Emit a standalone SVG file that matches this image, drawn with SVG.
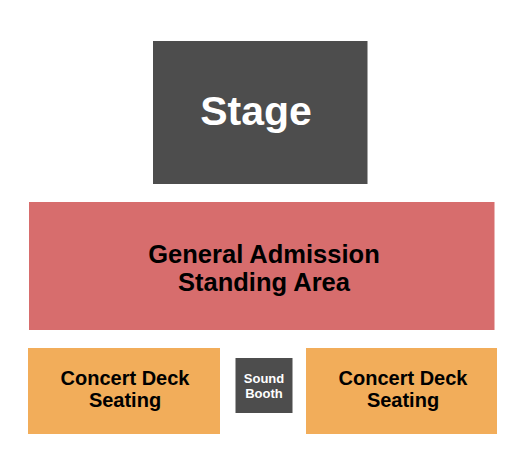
<svg xmlns="http://www.w3.org/2000/svg" width="525" height="475" viewBox="0 0 525 475">
<style>
text{font-family:"Liberation Sans",Arial,sans-serif;font-weight:bold;text-anchor:middle}
.dark{fill:#4d4d4d}
.ga{fill:#d76d6d}
.deck{fill:#f2ad5a}
.lt{fill:#ffffff}
.bk{fill:#000000}
</style>
<rect width="525" height="475" fill="#ffffff"/>
<g id="stage">
<rect class="dark" x="153" y="41" width="214.5" height="143"/>
<text class="lt" x="256" y="125" font-size="41">Stage</text>
</g>
<g id="general-admission">
<rect class="ga" x="29" y="202" width="465.5" height="128"/>
<text class="bk" x="264" y="263" font-size="25.5">General Admission</text>
<text class="bk" x="264" y="291" font-size="25.5">Standing Area</text>
</g>
<g id="deck-left">
<rect class="deck" x="28" y="348" width="192" height="86"/>
<text class="bk" x="125" y="385" font-size="20">Concert Deck</text>
<text class="bk" x="125" y="407" font-size="20">Seating</text>
</g>
<g id="sound-booth">
<rect class="dark" x="235.5" y="358" width="57" height="55"/>
<text class="lt" font-size="13"><tspan x="264" y="382.5">Sound</tspan><tspan x="264" y="397.5">Booth</tspan></text>
</g>
<g id="deck-right">
<rect class="deck" x="306" y="348" width="191" height="86"/>
<text class="bk" x="403" y="385" font-size="20">Concert Deck</text>
<text class="bk" x="403" y="407" font-size="20">Seating</text>
</g>
<g id="connectors"></g>
</svg>
